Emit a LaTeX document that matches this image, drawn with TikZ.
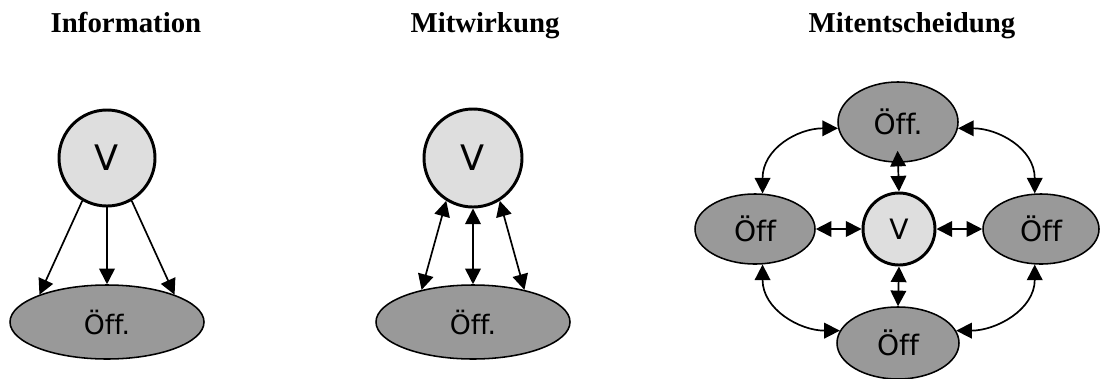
\documentclass[tikz,border=0pt]{standalone}
\usepackage{fontspec}
\setmainfont{Liberation Serif}
\newfontfamily\nodefont[Ligatures=NoCommon]{DejaVu Sans}
\usetikzlibrary{arrows.meta,shapes.geometric}

\begin{document}
\begin{tikzpicture}[x=0.25mm,y=-0.25mm,>={Triangle[length=3.9mm,width=3.9mm]}]

\tikzset{
  title/.style={anchor=base,font=\fontsize{20.5}{24}\selectfont\bfseries},
  vcircle/.style={circle,draw=black,line width=2.1pt,fill=black!13,inner sep=0pt,font=\nodefont},
  oeff/.style={ellipse,draw=black,line width=1.1pt,fill=black!40,inner sep=0pt,font=\nodefont},
  link/.style={line width=1.2pt}
}

\useasboundingbox (0,0) rectangle (1100,378);

%% Titles
\node[title] (t1) at (126,32) {Information};
\node[title] (t2) at (485,32) {Mitwirkung};
\node[title] (t3) at (912,32) {Mitentscheidung};

%% Information
\node[vcircle,minimum size=24mm,font=\nodefont\fontsize{25}{28}\selectfont] (v1) at (107,158) {V};
\node[oeff,minimum width=48.5mm,minimum height=18.5mm,font=\nodefont\fontsize{19}{22}\selectfont] (o1) at (107,322) {Öff.};
\draw[link,->] (v1.240) -- (o1.158);
\draw[link,->] (v1.south) -- (o1.north);
\draw[link,->] (v1.300) -- (o1.22);

%% Mitwirkung
\node[vcircle,minimum size=24.5mm,font=\nodefont\fontsize{25}{28}\selectfont] (v2) at (473,158) {V};
\node[oeff,minimum width=48.5mm,minimum height=18.5mm,font=\nodefont\fontsize{19}{22}\selectfont] (o2) at (473,322) {Öff.};
\draw[link,<->] (v2.238) -- (o2.148);
\draw[link,<->] (v2.south) -- (o2.north);
\draw[link,<->] (v2.302) -- (o2.32);

%% Mitentscheidung
\node[vcircle,minimum size=18mm,font=\nodefont\fontsize{20}{24}\selectfont] (v3) at (899,229) {V};
\node[oeff,minimum width=30mm,minimum height=20mm,font=\nodefont\fontsize{20}{24}\selectfont] (top) at (898,122) {Öff.};
\node[oeff,minimum width=30mm,minimum height=17.5mm,font=\nodefont\fontsize{20}{24}\selectfont] (left) at (755,229) {Öff};
\node[oeff,minimum width=29mm,minimum height=17.5mm,font=\nodefont\fontsize{20}{24}\selectfont] (right) at (1041,229) {Öff};
\node[oeff,minimum width=30.5mm,minimum height=18mm,font=\nodefont\fontsize{20}{24}\selectfont] (bottom) at (898,343) {Öff};

\draw[link,<->,shorten <=-3mm] (top.south) -- (v3.north);
\draw[link,<->] (left.east) -- (v3.west);
\draw[link,<->] (v3.east) -- (right.west);
\draw[link,<->] (v3.south) -- (bottom.north);

\draw[link,<->] (left.78) .. controls +(0,-45) and +(-40,0) .. (top.186);
\draw[link,<->] (top.354) .. controls +(40,0) and +(0,-45) .. (right.100);
\draw[link,<->] (left.282) .. controls +(0,45) and +(-40,0) .. (bottom.168);
\draw[link,<->] (right.260) .. controls +(0,45) and +(40,0) .. (bottom.12);

\end{tikzpicture}
\end{document}
